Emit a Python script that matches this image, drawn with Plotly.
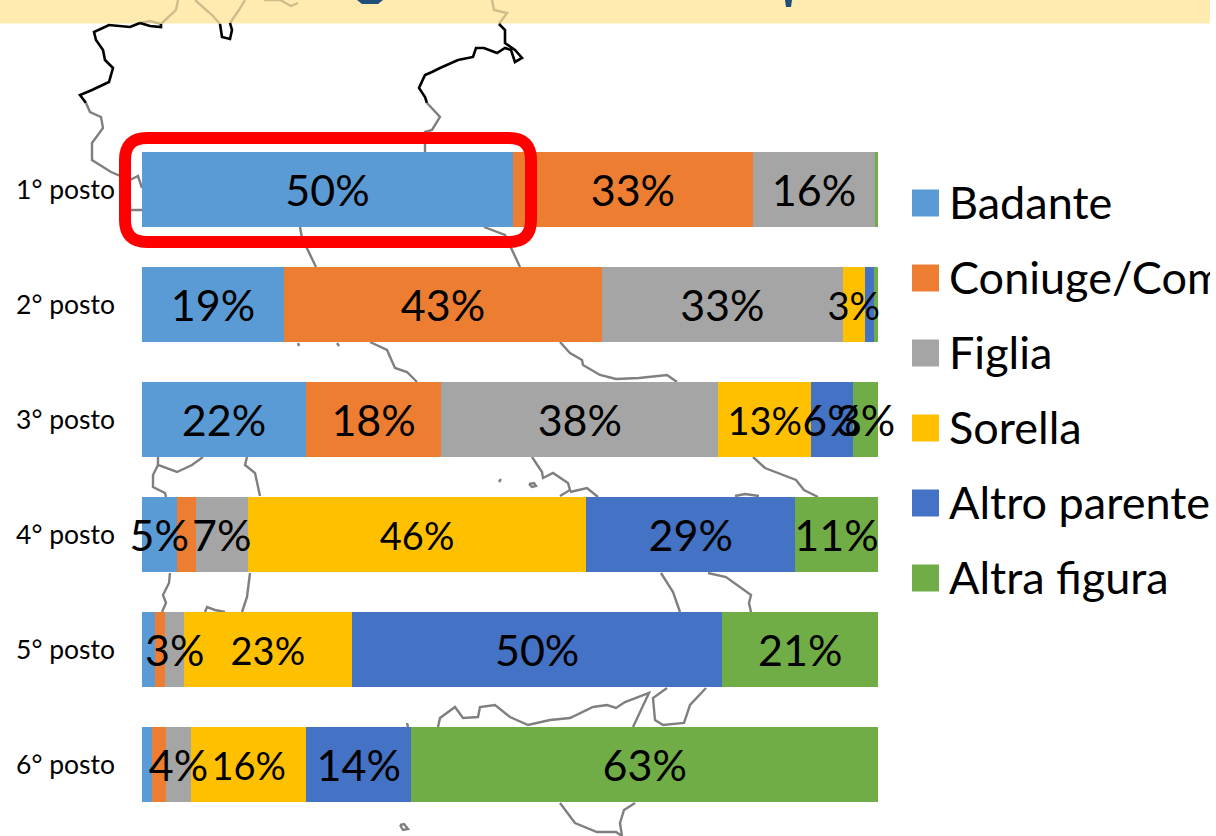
import plotly.graph_objects as go

# ---- data -----------------------------------------------------------
categories = ["1° posto", "2° posto", "3° posto", "4° posto", "5° posto", "6° posto"]
series_names = ["Badante", "Coniuge/Compagno", "Figlia", "Sorella", "Altro parente", "Altra figura"]
colors = ["#5B9BD5", "#ED7D31", "#A5A5A5", "#FFC000", "#4472C4", "#70AD47"]

badante = [50.4, 19.3, 22.3, 4.7, 1.8, 1.4]
coniuge = [32.6, 43.2, 18.4, 2.6, 1.4, 1.8]
figlia = [16.6, 32.7, 37.7, 7.1, 2.5, 3.5]
sorella = [0.0, 3.0, 12.6, 46.1, 22.9, 15.6]
altro = [0.0, 1.2, 5.7, 28.4, 50.5, 14.3]
altra = [0.4, 0.6, 3.4, 11.3, 21.2, 63.4]

badante_lbl = ["50%", "19%", "22%", "5%", "", ""]
coniuge_lbl = ["33%", "43%", "18%", "", "", ""]
figlia_lbl = ["16%", "33%", "38%", "7%", "3%", "4%"]
sorella_lbl = ["", "3%", "13%", "46%", "23%", "16%"]
altro_lbl = ["", "", "6%", "29%", "50%", "14%"]
altra_lbl = ["", "", "3%", "11%", "21%", "63%"]

series_values = [badante, coniuge, figlia, sorella, altro, altra]
series_labels = [badante_lbl, coniuge_lbl, figlia_lbl, sorella_lbl, altro_lbl, altra_lbl]
label_sizes = [43, 43, 43, 38, 43, 43]

# ---- layout frame (pixels of the page) ------------------------------
PL, PR, PT, PB = 142, 878, 132, 822
W, H = 1210, 836
ROW = 115
LABEL_DROP = 5.5 / ROW


def fx(x):
    return (x - PL) / (PR - PL)


def fy(y):
    return 1 - (y - PT) / (PB - PT)


def path(points, close=False):
    s = "M" + " L".join(f"{fx(x):.5f},{fy(y):.5f}" for x, y in points)
    return s + (" Z" if close else "")


# decorative background map of Italy, traced outline pieces
map_band = [
    [(178, 0), (176, 10), (161, 24)],
    [(140, 23), (150, 21), (161, 24)],
    [(195, 0), (212, 15), (220, 24)],
    [(245, 0), (239, 10), (230, 23)],
    [(264, 0), (280, 0), (291, 6), (298, 3)],
    [(492, 0), (494, 10), (507, 13), (499, 24)],
]
map_black = [
    [(140, 23), (130, 27), (109, 25), (94, 32), (96, 40), (103, 50), (105, 60), (113, 68),
     (109, 82), (92, 90), (80, 95), (86, 103)],
    [(140, 23), (150, 26), (161, 27), (161, 24)],
    [(220, 24), (222, 37), (230, 39), (232, 30), (230, 23)],
    [(499, 24), (505, 30), (505, 43), (515, 50), (522, 58), (515, 62), (511, 50), (505, 48),
     (497, 53), (484, 48), (476, 48), (473, 57), (458, 60), (440, 68), (432, 72), (425, 75),
     (419, 88), (425, 97), (427, 103)],
]
map_gray = [
    [(86, 103), (90, 112), (101, 117), (103, 128), (92, 143), (92, 160), (111, 172), (130, 180),
     (138, 176), (142, 188)],
    [(130, 205), (130, 210), (142, 210)],
    [(427, 103), (440, 117), (432, 130), (425, 132), (425, 152)],
    [(300, 227), (302, 238), (316, 267)],
    [(484, 227), (505, 235), (520, 267)],
    [(298, 343), (299, 346)],
    [(337, 343), (339, 346)],
    [(370, 342), (387, 350), (395, 368), (407, 372), (417, 382)],
    [(560, 342), (570, 353), (582, 360), (583, 365), (600, 375), (616, 379), (639, 378), (667, 375), (677, 382)],
    [(158, 457), (158, 465), (177, 472), (192, 465), (203, 457)],
    [(158, 465), (153, 475), (153, 487), (165, 493), (166, 497)],
    [(247, 457), (245, 465), (255, 473), (260, 496)],
    [(532, 457), (542, 472), (543, 478), (553, 473), (568, 483), (570, 490), (560, 496)],
    [(570, 492), (587, 488), (598, 497)],
    [(499, 482), (501, 479)],
    [(529, 484), (534, 483), (536, 486), (532, 487), (529, 484)],
    [(753, 457), (765, 468), (796, 480), (804, 490), (818, 497)],
    [(735, 496), (745, 494), (759, 496)],
    [(170, 573), (169, 583), (163, 595), (166, 603), (162, 612)],
    [(250, 573), (247, 597), (242, 612)],
    [(205, 612), (207, 607), (215, 610), (225, 612)],
    [(661, 573), (673, 592), (680, 612)],
    [(708, 573), (726, 577), (751, 595), (749, 603), (751, 612)],
    [(408, 727), (407, 723)],
    [(438, 727), (440, 718), (455, 707), (463, 718), (478, 717), (480, 707), (495, 705), (510, 717),
     (528, 725), (550, 720), (570, 718), (593, 707), (607, 705), (616, 708), (625, 702), (649, 693),
     (633, 727)],
    [(667, 688), (653, 698), (655, 720), (663, 725), (684, 723), (690, 705), (706, 688)],
    [(560, 803), (575, 823), (597, 832), (616, 832), (622, 836)],
    [(635, 803), (624, 810), (620, 823), (622, 836)],
    [(400, 825), (404, 824), (408, 829), (403, 830), (400, 825)],
]

# ---- figure ---------------------------------------------------------
fig = go.Figure()
for name, vals, col in zip(series_names, series_values, colors):
    fig.add_trace(go.Bar(
        name=name, y=categories, x=vals, orientation="h",
        marker=dict(color=col, line=dict(width=0)),
        hoverinfo="skip", showlegend=False,
    ))

# labels sit above every bar, centred on their own segment of the normalised stack
totals = [sum(col) for col in zip(*series_values)]
base = [0.0] * len(categories)
for name, vals, lbls, size in zip(series_names, series_values, series_labels, label_sizes):
    centers = [(b + v / 2) / t * 100 for b, v, t in zip(base, vals, totals)]
    base = [b + v for b, v in zip(base, vals)]
    fig.add_trace(go.Scatter(
        name=name + " labels", y=categories, x=centers, yaxis="y2", mode="text", text=lbls,
        textposition="middle center", cliponaxis=False,
        textfont=dict(family="Lato", size=size, color="black"),
        hoverinfo="skip", showlegend=False,
    ))

shapes = []
# header band
shapes.append(dict(type="rect", xref="paper", yref="paper", x0=fx(0), x1=fx(W), y0=fy(0), y1=fy(23.5),
                   fillcolor="#FFEBB0", line_width=0, layer="below"))
for seg in map_band:
    shapes.append(dict(type="path", path=path(seg), xref="paper", yref="paper",
                       line=dict(color="#CDBD8C", width=2.4), layer="below"))
for seg in map_black:
    shapes.append(dict(type="path", path=path(seg), xref="paper", yref="paper",
                       line=dict(color="#000000", width=2.6), layer="below"))
for seg in map_gray:
    shapes.append(dict(type="path", path=path(seg), xref="paper", yref="paper",
                       line=dict(color="#7F7F7F", width=2.4), layer="below"))
# cropped title fragments in the header
for seg in [[(357, 0), (383, 0), (378, 4), (362, 4)], [(785, 0), (792, 0), (791, 7), (786, 7)]]:
    shapes.append(dict(type="path", path=path(seg, True), xref="paper", yref="paper",
                       fillcolor="#1F4E79", line_width=0, layer="below"))

# red highlight box
x0, x1, y0, y1, r = 125, 531, 138, 242, 22
rr = (f"M{fx(x0+r):.5f},{fy(y0):.5f} L{fx(x1-r):.5f},{fy(y0):.5f} Q{fx(x1):.5f},{fy(y0):.5f} {fx(x1):.5f},{fy(y0+r):.5f} "
      f"L{fx(x1):.5f},{fy(y1-r):.5f} Q{fx(x1):.5f},{fy(y1):.5f} {fx(x1-r):.5f},{fy(y1):.5f} "
      f"L{fx(x0+r):.5f},{fy(y1):.5f} Q{fx(x0):.5f},{fy(y1):.5f} {fx(x0):.5f},{fy(y1-r):.5f} "
      f"L{fx(x0):.5f},{fy(y0+r):.5f} Q{fx(x0):.5f},{fy(y0):.5f} {fx(x0+r):.5f},{fy(y0):.5f} Z")
shapes.append(dict(type="path", path=rr, xref="paper", yref="paper",
                   line=dict(color="#FF0000", width=12), layer="above"))

# legend drawn with large square swatches
annotations = []
for i, (name, col) in enumerate(zip(series_names, colors)):
    cy = 203 + 75 * i
    shapes.append(dict(type="rect", xref="paper", yref="paper", x0=fx(912), x1=fx(939),
                       y0=fy(cy - 13.5), y1=fy(cy + 13.5), fillcolor=col, line_width=0, layer="above"))
    annotations.append(dict(text=name, xref="paper", yref="paper", x=fx(947), y=fy(cy - 1),
                            xanchor="left", yanchor="middle", showarrow=False, align="left",
                            font=dict(family="Lato", size=45, color="black")))

fig.update_layout(
    width=W, height=H,
    margin=dict(l=PL, r=W - PR, t=PT, b=H - PB, pad=0, autoexpand=False),
    barmode="stack", barnorm="percent", bargap=40 / ROW,
    paper_bgcolor="white", plot_bgcolor="rgba(0,0,0,0)",
    showlegend=False, shapes=shapes, annotations=annotations,
    xaxis=dict(range=[0, 100], visible=False, fixedrange=True),
    yaxis=dict(type="category", categoryorder="array", categoryarray=categories, autorange="reversed",
               showgrid=False, zeroline=False, showline=False, ticks="", ticklabelstandoff=26,
               tickfont=dict(family="Lato", size=26.5, color="black"), fixedrange=True),
    # same rows as the bars, nudged so the labels sit at the reference's height
    yaxis2=dict(type="category", categoryorder="array", categoryarray=categories, overlaying="y",
                range=[5.5 - LABEL_DROP, -0.5 - LABEL_DROP], visible=False, fixedrange=True),
)

fig.write_html("out.html", config={"displayModeBar": False},
               post_script="document.body.style.margin='0';document.documentElement.style.overflow='hidden';")
